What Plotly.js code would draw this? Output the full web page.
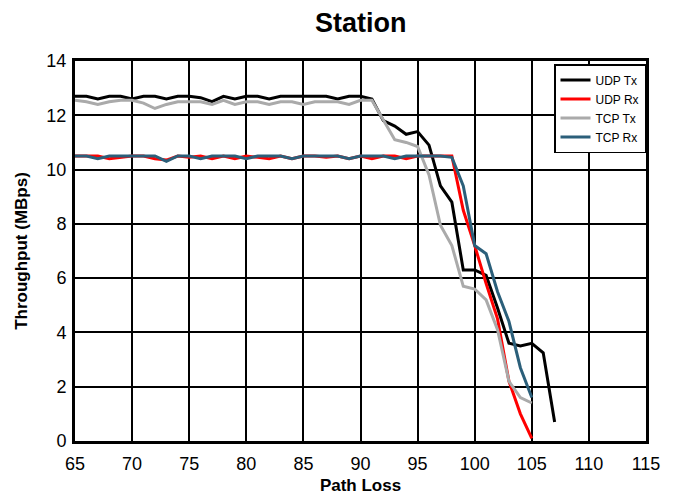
<!DOCTYPE html>
<html>
<head>
<meta charset="utf-8">
<script src="https://cdn.plot.ly/plotly-3.0.1.min.js"></script>
<style>html,body{margin:0;padding:0;background:#fff;}#chart{width:673px;height:496px;}</style>
</head>
<body>
<div id="chart"></div>
<script>
const pathLossTx = [65,66,67,68,69,70,71,72,73,74,75,76,77,78,79,80,81,82,83,84,85,86,87,88,89,90,91,92,93,94,95,96,97,98,99,100,101,102,103,104,105,106,107];
const pathLoss = [65,66,67,68,69,70,71,72,73,74,75,76,77,78,79,80,81,82,83,84,85,86,87,88,89,90,91,92,93,94,95,96,97,98,99,100,101,102,103,104,105];
const udpTx = [12.7,12.7,12.6,12.7,12.7,12.6,12.7,12.7,12.6,12.7,12.7,12.65,12.5,12.7,12.6,12.7,12.7,12.6,12.7,12.7,12.7,12.7,12.7,12.6,12.7,12.7,12.6,11.8,11.6,11.3,11.4,10.9,9.4,8.8,6.3,6.3,6.1,4.9,3.6,3.5,3.6,3.25,0.7];
const udpRx = [10.5,10.5,10.5,10.4,10.45,10.5,10.5,10.4,10.35,10.5,10.45,10.5,10.4,10.5,10.4,10.5,10.45,10.4,10.5,10.4,10.5,10.5,10.45,10.5,10.4,10.5,10.4,10.5,10.5,10.4,10.5,10.5,10.5,10.5,8.5,7.2,5.8,4.5,2.2,1.0,0.1];
const tcpTx = [12.55,12.5,12.4,12.5,12.55,12.55,12.45,12.25,12.4,12.5,12.5,12.5,12.4,12.55,12.4,12.5,12.5,12.4,12.5,12.5,12.4,12.5,12.5,12.5,12.4,12.55,12.55,11.8,11.1,11.0,10.85,9.8,7.95,7.2,5.7,5.6,5.2,4.1,2.2,1.6,1.4];
const tcpRx = [10.5,10.5,10.4,10.5,10.5,10.5,10.5,10.5,10.3,10.5,10.5,10.4,10.5,10.5,10.5,10.4,10.5,10.5,10.5,10.4,10.5,10.5,10.5,10.5,10.4,10.5,10.5,10.5,10.4,10.5,10.5,10.5,10.5,10.45,9.4,7.2,6.9,5.5,4.4,2.7,1.6];
const seriesNames = ["UDP Tx","UDP Rx","TCP Tx","TCP Rx"];
const seriesColors = ["#000000","#ff0000","#aaaaaa","#2b5f7a"];
const xTicks = [65,70,75,80,85,90,95,100,105,110,115];
const yTicks = [0,2,4,6,8,10,12,14];

const xs = [pathLossTx, pathLoss, pathLoss, pathLoss];
const ys = [udpTx, udpRx, tcpTx, tcpRx];
const traces = seriesNames.map((n,i)=>({
  x: xs[i], y: ys[i], name: n, type: 'scatter', mode: 'lines',
  line: {color: seriesColors[i], width: 3}
}));

const layout = {
  width: 673, height: 496,
  margin: {l: 75, r: 27, t: 61, b: 55},
  paper_bgcolor: '#fff', plot_bgcolor: '#fff',
  font: {family: 'Arial, "Liberation Sans", sans-serif', color: '#000'},
  title: {text: '<b>Station</b>', font: {size: 27, color: '#000'}, x: 0.536, xanchor: 'center', y: 0.955, yanchor: 'middle'},
  xaxis: {
    range: [65, 115], tickvals: xTicks, ticktext: xTicks.map(String),
    showgrid: true, gridcolor: '#000', gridwidth: 2,
    showline: true, linecolor: '#000', linewidth: 3, mirror: true,
    zeroline: false, ticks: '', tickfont: {size: 18}, ticklabelstandoff: 4,
    title: {text: '<b>Path Loss</b>', font: {size: 17}, standoff: 7}
  },
  yaxis: {
    range: [0, 14], tickvals: yTicks, ticktext: yTicks.map(String),
    showgrid: true, gridcolor: '#000', gridwidth: 2,
    showline: true, linecolor: '#000', linewidth: 3, mirror: true,
    zeroline: false, ticks: '', tickfont: {size: 18}, ticklabelstandoff: 2,
    title: {text: '<b>Throughput (MBps)</b>', font: {size: 17}, standoff: 15}
  },
  legend: {
    x: 1.0, y: 0.992, xanchor: 'right', yanchor: 'top',
    bgcolor: '#fff', bordercolor: '#000', borderwidth: 1.5,
    font: {size: 12}, tracegroupgap: 0, itemwidth: 30
  },
  showlegend: true
};
Plotly.newPlot('chart', traces, layout, {displayModeBar: false, staticPlot: true});
</script>
</body>
</html>
